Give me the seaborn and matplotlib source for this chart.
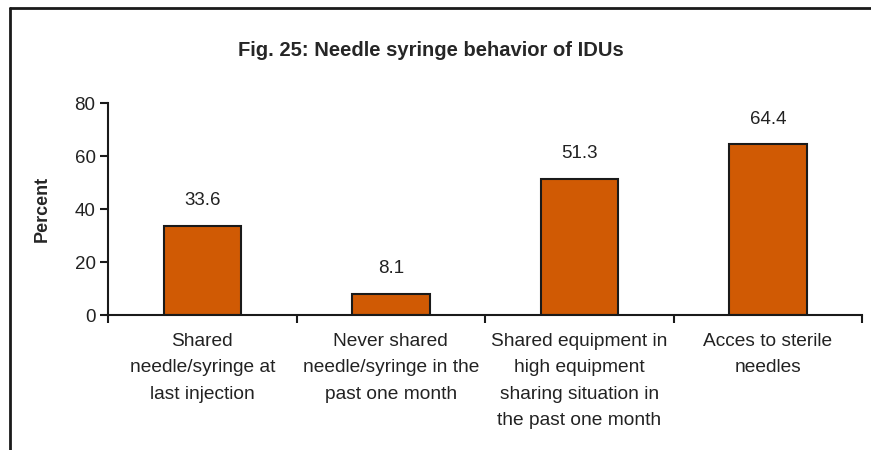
import seaborn as sns
import matplotlib.pyplot as plt
import matplotlib.transforms as mtransforms
import pandas as pd
from matplotlib.lines import Line2D

# data
categories = ['Shared\nneedle/syringe at\nlast injection',
              'Never shared\nneedle/syringe in the\npast one month',
              'Shared equipment in\nhigh equipment\nsharing situation in\nthe past one month',
              'Acces to sterile\nneedles']
percent = [33.6, 8.1, 51.3, 64.4]
yticks = [0, 20, 40, 60, 80]

df = pd.DataFrame({'cat': categories, 'pct': percent})

sns.set_style('white')
plt.rcParams['font.family'] = ['Liberation Sans', 'DejaVu Sans']

fig = plt.figure(figsize=(8.71, 4.5), dpi=100)
ax = fig.add_axes([0.124, 0.30, 0.866, 0.471])

sns.barplot(data=df, x='cat', y='pct', order=categories, color='#D05A04',
            saturation=1, width=0.41, edgecolor='#1a1a1a', linewidth=1.5, ax=ax)

ax.bar_label(ax.containers[0], fmt='%.1f', padding=12, fontsize=13.5, color='#222222')

ax.set_ylim(0, 80)
ax.set_yticks(yticks)
ax.set_xlim(-0.5, len(categories) - 0.5)
ax.set_xlabel('')
ax.set_ylabel('Percent', fontsize=13, fontweight='bold', labelpad=17)

# ticks at category boundaries, labels centered under bars
ax.set_xticks([i + 0.5 for i in range(-1, len(categories))], minor=True)
ax.set_xticks(range(len(categories)), labels=[''] * len(categories))
ax.tick_params(axis='x', which='major', length=0)
ax.tick_params(axis='x', which='minor', length=6, width=1.5, direction='out', color='#1a1a1a', bottom=True)
ax.tick_params(axis='y', length=6, width=1.5, direction='out', color='#1a1a1a', left=True,
               labelsize=13.5, labelcolor='#222222', pad=3)

# category labels written as text so the line spacing can be opened up
trans = mtransforms.offset_copy(ax.get_xaxis_transform(), fig=fig, y=-13, units='points')
for i, cat in enumerate(categories):
    ax.text(i, 0, cat, transform=trans, ha='center', va='top', fontsize=13.8,
            color='#222222', linespacing=1.72, multialignment='center')

sns.despine(ax=ax)
for s in ['left', 'bottom']:
    ax.spines[s].set_color('#1a1a1a')
    ax.spines[s].set_linewidth(1.5)

fig.text(0.495, 0.887, 'Fig. 25: Needle syringe behavior of IDUs', ha='center', va='center',
         fontsize=14.5, fontweight='bold')

# outer frame (left and top edges visible)
fig.add_artist(Line2D([10/871, 10/871], [0, 1 - 8/450], transform=fig.transFigure, color='#1a1a1a', lw=2))
fig.add_artist(Line2D([10/871, 1], [1 - 8/450, 1 - 8/450], transform=fig.transFigure, color='#1a1a1a', lw=2))

fig.savefig('out.png', dpi=100)
